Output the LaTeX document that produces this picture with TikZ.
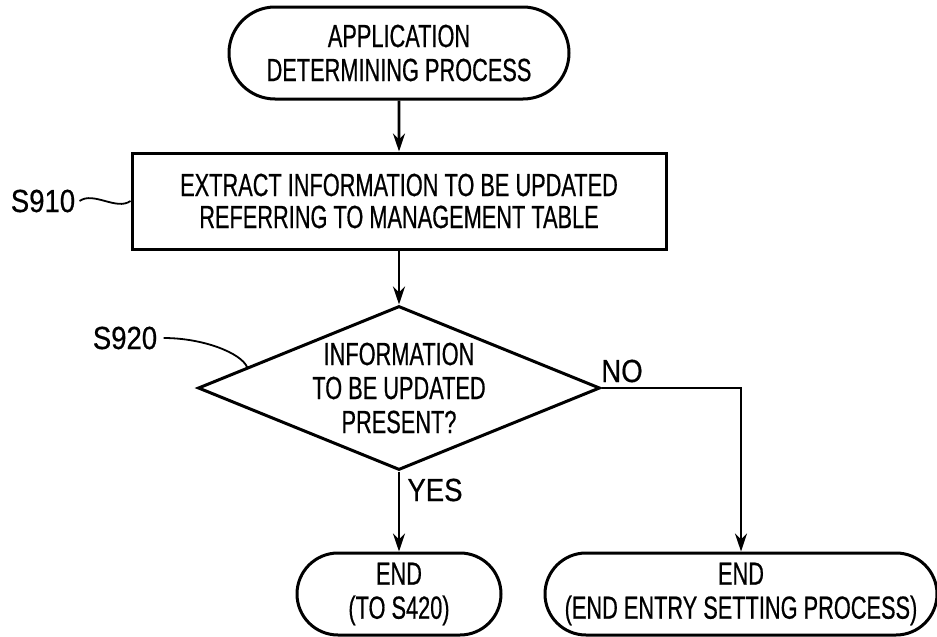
\documentclass[tikz,border=0pt]{standalone}
\usepackage{fontspec}
\newfontfamily\boxfont{Liberation Sans}[FakeStretch=0.68,FakeBold=0.5]
\newfontfamily\tagfont{Liberation Sans}[FakeStretch=0.86,FakeBold=0.5]
\usepackage{tikz}
\usetikzlibrary{arrows.meta,shapes.geometric,shapes.misc,positioning,calc}
\tikzstyle{term} = [rounded rectangle, draw=black, line width=1.5pt, align=center, inner sep=0pt, font=\boxfont\fontsize{16pt}{17pt}\selectfont]
\tikzstyle{proc} = [rectangle, draw=black, line width=1.5pt, align=center, inner sep=0pt, font=\boxfont\fontsize{16pt}{16pt}\selectfont]
\tikzstyle{dec}  = [diamond, draw=black, line width=1.5pt, align=center, inner sep=0pt, aspect=2.45, font=\boxfont\fontsize{16pt}{17pt}\selectfont]
\tikzstyle{tag}  = [black, inner sep=0pt, font=\tagfont\fontsize{16pt}{17pt}\selectfont]
\tikzstyle{a}    = [-{Stealth[length=9pt,width=6pt]}, line width=1.3pt]
\tikzstyle{w}    = [black, line width=0.9pt]

\begin{document}
\begin{tikzpicture}
		[
			x=0.5pt, y=-0.5pt,
		]
		\useasboundingbox (0,0) rectangle (937,637);

		\node[term, minimum width=170pt, minimum height=46pt] (start) at (399,53) {APPLICATION\\DETERMINING PROCESS};
		\node[proc, minimum width=267pt, minimum height=48pt] (extract) at (399,201) {EXTRACT INFORMATION TO BE UPDATED\\REFERRING TO MANAGEMENT TABLE};
		\node[dec, minimum width=201pt, minimum height=82pt] (present) at (399,388) {INFORMATION\\TO BE UPDATED\\PRESENT?};
		\node[term, minimum width=102pt, minimum height=41pt] (endyes) at (399,594) {END\\(TO S420)};
		\node[term, minimum width=196pt, minimum height=41pt] (endno) at (741,594) {END\\(END ENTRY SETTING PROCESS)};

		\node[tag] (s910) at (43,201) {S910};
		\node[tag] (s920) at (125,338) {S920};
		\node[tag] (no) at (622,371) {NO};
		\node[tag] (yes) at (435,490) {YES};

		\coordinate (bend) at (endno.north |- present.east);
		\coordinate (hook) at ($(present.west)!0.25!(present.north)$);

		\draw[a] (start) -- (extract);
		\draw[a] (extract) -- (present);
		\draw[a] (present.south) -- (endyes.north);
		\draw[a] (present.east) -- (bend) -- (endno.north);

		\draw[w] ([xshift=2pt]s910.east) .. controls +(14,-10) and +(-14,10) .. (extract.west);
		\draw[w] ([xshift=3pt]s920.east) .. controls +(40,0) and +(-6,-14) .. (hook);
	\end{tikzpicture}
\end{document}
